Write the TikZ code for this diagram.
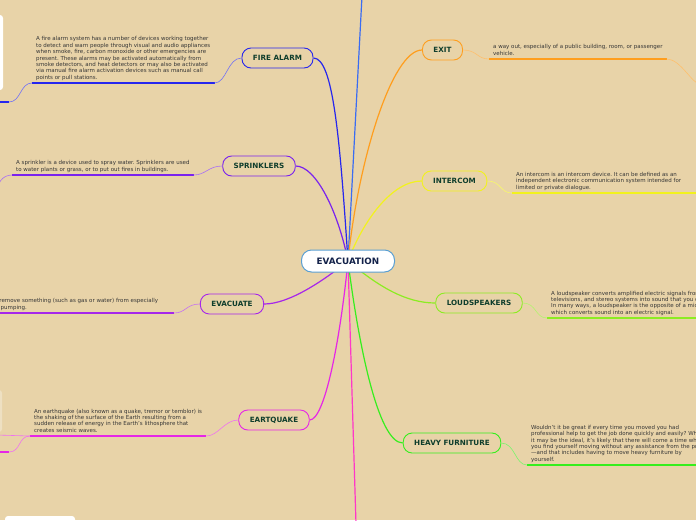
\documentclass[tikz,border=0pt]{standalone}
\usepackage{fontspec}
\setmainfont{DejaVu Sans}
\usetikzlibrary{backgrounds}

\definecolor{bgtan}{HTML}{E8D3A8}
\definecolor{titlegreen}{HTML}{0E3D2C}
\definecolor{desctext}{HTML}{363636}
\definecolor{centerblue}{HTML}{5A9FD2}
\definecolor{centernavy}{HTML}{13224A}
\definecolor{alarmblue}{HTML}{2626EE}
\definecolor{topblue}{HTML}{3A6CF2}
\definecolor{sprinkpurple}{HTML}{7A22EE}
\definecolor{evacviolet}{HTML}{A626EA}
\definecolor{quakemagenta}{HTML}{E626E6}
\definecolor{botpink}{HTML}{FF36C8}
\definecolor{exitorange}{HTML}{FF9E1E}
\definecolor{icomyellow}{HTML}{F2F21E}
\definecolor{speaklime}{HTML}{8CEC22}
\definecolor{furngreen}{HTML}{36EE1E}

\begin{document}
\frenchspacing
\begin{tikzpicture}
[
	x=1pt,y=-1pt,
	topic/.style={draw=#1,line width=0.9pt,rounded corners=9pt,fill=bgtan,
		minimum height=20pt,inner xsep=11pt,inner ysep=0pt,
		font=\bfseries\fontsize{7.2}{8}\selectfont,text=titlegreen},
	desc/.style={align=left,inner xsep=4pt,inner ysep=2pt,text depth=1.5pt,
		font=\fontsize{5.5}{6.4}\selectfont,text=desctext},
	branch/.style={draw=#1,line width=1.2pt},
	uline/.style={draw=#1,line width=1.6pt},
	twig/.style={draw=#1!65!white,line width=0.6pt}
]

	\useasboundingbox (0,0) rectangle (696,520);
	\clip (0,0) rectangle (696,520);

	% central topic
	\node[draw=centerblue,fill=white,line width=1pt,rounded corners=10pt,
		minimum width=93pt,minimum height=22pt,
		font=\bfseries\fontsize{8.8}{10}\selectfont,text=centernavy]
		(evac) at (348,261) {EVACUATION};

	% left topics
	\node[topic=alarmblue]    (fire)   at (277.5,58) {FIRE ALARM};
	\node[topic=sprinkpurple] (sprink) at (259,166)  {SPRINKLERS};
	\node[topic=evacviolet]   (evacu)  at (232,304)  {EVACUATE};
	\node[topic=quakemagenta] (quake)  at (274,420)  {EARTQUAKE};

	% right topics
	\node[topic=exitorange] (exit)  at (442.5,50) {EXIT};
	\node[topic=icomyellow] (icom)  at (454.5,181) {INTERCOM};
	\node[topic=speaklime]  (speak) at (479,303)  {LOUDSPEAKERS};
	\node[topic=furngreen]  (furn)  at (452,443)  {HEAVY FURNITURE};

	% descriptions
	\node[desc,anchor=south west] (firedesc) at (32,83)
		{A fire alarm system has a number of devices working together\\
		to detect and warn people through visual and audio appliances\\
		when smoke, fire, carbon monoxide or other emergencies are\\
		present. These alarms may be activated automatically from\\
		smoke detectors, and heat detectors or may also be activated\\
		via manual fire alarm activation devices such as manual call\\
		points or pull stations.};
	\node[desc,anchor=south west] (sprinkdesc) at (12,175)
		{A sprinkler is a device used to spray water. Sprinklers are used\\
		to water plants or grass, or to put out fires in buildings.};
	\node[desc,anchor=south west] (evacudesc) at (-12,313)
		{to remove something (such as gas or water) from especially\\
		by pumping.};
	\node[desc,anchor=south west] (quakedesc) at (30,436)
		{An earthquake (also known as a quake, tremor or temblor) is\\
		the shaking of the surface of the Earth resulting from a\\
		sudden release of energy in the Earth's lithosphere that\\
		creates seismic waves.};
	\node[desc,anchor=south west] (exitdesc) at (489,59)
		{a way out, especially of a public building, room, or passenger\\
		vehicle.};
	\node[desc,anchor=south west] (icomdesc) at (512,193)
		{An intercom is an intercom device. It can be defined as an\\
		independent electronic communication system intended for\\
		limited or private dialogue.};
	\node[desc,anchor=south west] (speakdesc) at (547,318)
		{A loudspeaker converts amplified electric signals from radios,\\
		televisions, and stereo systems into sound that you can hear.\\
		In many ways, a loudspeaker is the opposite of a microphone,\\
		which converts sound into an electric signal.};
	\node[desc,anchor=south west] (furndesc) at (527,465)
		{Wouldn't it be great if every time you moved you had\\
		professional help to get the job done quickly and easily? While\\
		it may be the ideal, it's likely that there will come a time when\\
		you find yourself moving without any assistance from the pros\\
		---and that includes having to move heavy furniture by\\
		yourself.};

	% free ends of branches and underlines
	\coordinate (topout)  at (362,-4);
	\coordinate (botout)  at (356,524);
	\coordinate (firekid) at (9,102);
	\coordinate (fireend) at (-4,102);
	\coordinate (sprinkend) at (-3,192);
	\coordinate (evacuend) at (174,313);
	\coordinate (icomend) at (700,193);
	\coordinate (quakekid) at (9,452);
	\coordinate (quakeend) at (-4,452);
	\coordinate (quakeside) at (-4,435);
	\coordinate (exitend) at (700,84);

	\begin{pgfonlayer}{background}
		\fill[bgtan] (0,0) rectangle (696,520);

		% clipped image boxes at the frame edges
		\fill[white,rounded corners=3pt] (-60,15) rectangle (3,90);
		\fill[white,opacity=0.3,rounded corners=3pt] (-60,390) rectangle (2,432);
		\fill[white,rounded corners=3pt] (5,516) rectangle (75,530);

		% branches
		\draw[branch=topblue] (evac.center) -- (topout);
		\draw[branch=botpink] (evac.center) -- (botout);
		\draw[branch=alarmblue] (fire.east) .. controls +(20,0) and +(-8,-120) .. (evac.center);
		\draw[branch=sprinkpurple] (sprink.east) .. controls +(20,0) and +(-10,-50) .. (evac.center);
		\draw[branch=evacviolet] (evacu.east) .. controls +(25,0) and +(-25,20) .. (evac.center);
		\draw[branch=quakemagenta] (quake.east) .. controls +(15,0) and +(-8,80) .. (evac.center);
		\draw[branch=exitorange] (evac.center) .. controls +(10,-100) and +(-30,0) .. (exit.west);
		\draw[branch=icomyellow] (evac.center) .. controls +(15,-40) and +(-30,0) .. (icom.west);
		\draw[branch=speaklime] (evac.center) .. controls +(30,25) and +(-30,0) .. (speak.west);
		\draw[branch=furngreen] (evac.center) .. controls +(10,80) and +(-25,0) .. (furn.west);

		% underlines
		\draw[uline=alarmblue] (firedesc.south west) -- (firedesc.south east);
		\draw[uline=sprinkpurple] (sprinkdesc.south west) -- (sprinkdesc.south east);
		\draw[uline=evacviolet] (evacudesc.south west) -- (evacuend);
		\draw[uline=quakemagenta] (quakedesc.south west) -- (quakedesc.south east);
		\draw[uline=exitorange] (exitdesc.south west) -- (exitdesc.south east);
		\draw[uline=icomyellow] (icomdesc.south west) -- (icomend);
		\draw[uline=speaklime] (speakdesc.south west) -- (speakdesc.south east);
		\draw[uline=furngreen] (furndesc.south west) -- (furndesc.south east);
		\draw[uline=alarmblue] (firekid) -- (fireend);
		\draw[uline=quakemagenta] (quakekid) -- (quakeend);

		% twigs from topic to its description
		\draw[twig=alarmblue] (fire.west) .. controls +(-14,0) and +(12,0) .. (firedesc.south east);
		\draw[twig=sprinkpurple] (sprink.west) .. controls +(-14,0) and +(12,0) .. (sprinkdesc.south east);
		\draw[twig=evacviolet] (evacu.west) .. controls +(-14,0) and +(12,0) .. (evacuend);
		\draw[twig=quakemagenta] (quake.west) .. controls +(-14,0) and +(12,0) .. (quakedesc.south east);
		\draw[twig=exitorange] (exit.east) .. controls +(14,0) and +(-12,0) .. (exitdesc.south west);
		\draw[twig=icomyellow] (icom.east) .. controls +(14,0) and +(-12,0) .. (icomdesc.south west);
		\draw[twig=speaklime] (speak.east) .. controls +(14,0) and +(-12,0) .. (speakdesc.south west);
		\draw[twig=furngreen] (furn.east) .. controls +(14,0) and +(-12,0) .. (furndesc.south west);

		% twigs leaving the frame
		\draw[twig=alarmblue] (firedesc.south west) .. controls +(-12,0) and +(12,0) .. (firekid);
		\draw[twig=sprinkpurple] (sprinkdesc.south west) .. controls +(-10,0) and +(0,-8) .. (sprinkend);
		\draw[twig=quakemagenta] (quakedesc.south west) .. controls +(-12,0) and +(12,0) .. (quakekid);
		\draw[twig=quakemagenta] (quakedesc.south west) -- (quakeside);
		\draw[twig=exitorange] (exitdesc.south east) .. controls +(14,0) and +(-8,0) .. (exitend);
	\end{pgfonlayer}

\end{tikzpicture}
\end{document}
